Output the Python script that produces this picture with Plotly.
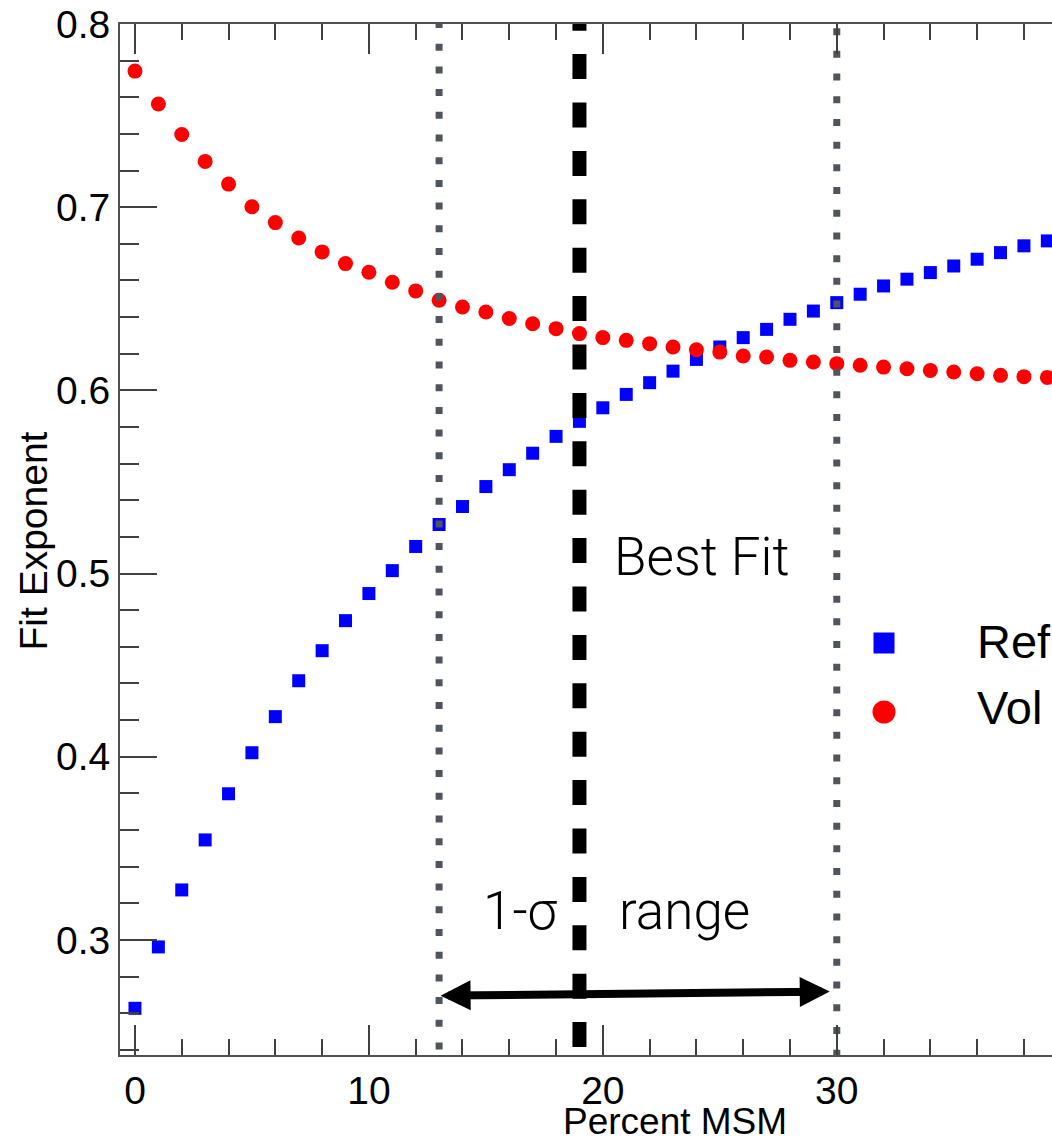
import plotly.graph_objects as go

# ---------------- data ----------------
percent_msm = list(range(40))
ref_exponent = [0.2627, 0.2962, 0.3273, 0.3546, 0.3798, 0.4022, 0.4219, 0.4415, 0.4579, 0.4743,
                0.4891, 0.5016, 0.5148, 0.5268, 0.5366, 0.5475, 0.5567, 0.5657, 0.5749, 0.5831,
                0.5905, 0.5978, 0.6042, 0.6105, 0.6169, 0.6237, 0.6288, 0.6333, 0.6388, 0.6433,
                0.6479, 0.6525, 0.6570, 0.6607, 0.6643, 0.6679, 0.6716, 0.6752, 0.6789, 0.6816]
vol_exponent = [0.7743, 0.7563, 0.7397, 0.7250, 0.7126, 0.7002, 0.6916, 0.6832, 0.6756, 0.6692,
                0.6645, 0.6590, 0.6543, 0.6492, 0.6455, 0.6428, 0.6392, 0.6364, 0.6337, 0.6310,
                0.6288, 0.6273, 0.6255, 0.6237, 0.6222, 0.6209, 0.6188, 0.6182, 0.6164, 0.6155,
                0.6146, 0.6137, 0.6127, 0.6118, 0.6109, 0.6100, 0.6091, 0.6082, 0.6075, 0.6071]
series_names = ["Ref", "Vol"]
best_fit_x = 19
sigma_range = [13, 30]
arrow_right_x = 29.7
arrow_y = [0.2696, 0.2718]
x_range = [-0.64, 39.2]
y_range = [0.2372, 0.8]

# ---------------- layout geometry (pixels) ----------------
W, H = 1052, 1144
ML, MR, MT, MB = 120, 0, 24, 89
PW, PH = W - ML - MR, H - MT - MB


def px(xp):
    return (xp - ML) / PW


def py(yp):
    return (H - MB - yp) / PH


fig = go.Figure()

fig.add_trace(go.Scatter(x=percent_msm, y=ref_exponent, mode="markers", name=series_names[0],
                         marker=dict(symbol="square", size=13, color="#0000ff"), showlegend=False))
fig.add_trace(go.Scatter(x=percent_msm, y=vol_exponent, mode="markers", name=series_names[1],
                         marker=dict(symbol="circle", size=15, color="#ff0000"), showlegend=False))

# 1-sigma bounds (dotted)
for xb, ystart in zip(sigma_range, [0.2402, 0.2363]):
    fig.add_trace(go.Scatter(x=[xb, xb], y=[ystart, y_range[1]], mode="lines", showlegend=False,
                             line=dict(color="#50555c", width=7, dash="7px,15.7px"), hoverinfo="skip"))
# best fit (dashed)
fig.add_trace(go.Scatter(x=[best_fit_x, best_fit_x], y=[0.2415, y_range[1]], mode="lines", showlegend=False,
                         line=dict(color="#000000", width=14, dash="25px,23.4px"), hoverinfo="skip"))

light = dict(family="Roboto, 'Liberation Sans', Arial, sans-serif", size=53, color="#000000", weight=300)
reg = dict(family="'Liberation Sans', Arial, Helvetica, sans-serif", color="#000000")

annotations = [
    # double headed arrow
    dict(x=arrow_right_x, y=arrow_y[1], ax=sigma_range[0], ay=arrow_y[0], xref="x", yref="y",
         axref="x", ayref="y", text="", showarrow=True, arrowside="end+start", arrowhead=2,
         startarrowhead=2, arrowwidth=8, arrowsize=0.75, startarrowsize=0.75, arrowcolor="#000000",
         standoff=0, startstandoff=0),
    dict(x=20.38, y=0.5093, xref="x", yref="y", text="Best Fit", showarrow=False,
         xanchor="left", yanchor="middle", font=light),
    dict(x=14.79, y=0.3158, xref="x", yref="y", text="1-σ", showarrow=False,
         xanchor="left", yanchor="middle", font=light),
    dict(x=20.6, y=0.3158, xref="x", yref="y", text="range", showarrow=False,
         xanchor="left", yanchor="middle", font=light),
    # axis titles
    dict(x=px(32.5), y=py(541), xref="paper", yref="paper", text="Fit Exponent", showarrow=False,
         textangle=-90, xanchor="center", yanchor="middle", font=dict(reg, size=39)),
    dict(x=px(675), y=0, yshift=-(H - MB) + 0 + (H - MB) - 89, xref="paper", yref="paper",
         text="Percent MSM", showarrow=False, xanchor="center", yanchor="bottom",
         font=dict(reg, size=37)),
    # legend labels
    dict(x=px(975), y=py(642), xref="paper", yref="paper", text=series_names[0], showarrow=False,
         xanchor="left", yanchor="middle", font=dict(reg, size=47)),
    dict(x=px(975), y=py(707), xref="paper", yref="paper", text=series_names[1], showarrow=False,
         xanchor="left", yanchor="middle", font=dict(reg, size=47)),
]

shapes = [
    dict(type="rect", xref="paper", yref="paper", xsizemode="pixel", ysizemode="pixel",
         xanchor=px(884), yanchor=py(643), x0=-10.5, x1=10.5, y0=-10.5, y1=10.5,
         fillcolor="#0000ff", line=dict(width=0)),
    dict(type="circle", xref="paper", yref="paper", xsizemode="pixel", ysizemode="pixel",
         xanchor=px(884), yanchor=py(712), x0=-11.5, x1=11.5, y0=-11.5, y1=11.5,
         fillcolor="#ff0000", line=dict(width=0)),
]

axis_common = dict(showline=True, linecolor="#505050", linewidth=2, ticks="inside",
                   tickcolor="#404040", tickwidth=2, showgrid=False, zeroline=False,
                   tickfont=dict(reg, size=39))

fig.update_layout(
    width=W, height=H, margin=dict(l=ML, r=MR, t=MT, b=MB, autoexpand=False),
    paper_bgcolor="white", plot_bgcolor="white", showlegend=False,
    xaxis=dict(axis_common, range=x_range, dtick=10, tick0=0, ticklen=30, mirror="ticks",
               minor=dict(dtick=2, tick0=0, ticklen=16, ticks="inside", tickcolor="#404040", tickwidth=2)),
    yaxis=dict(axis_common, range=y_range, dtick=0.1, tick0=0, ticklen=37, mirror=False,
               tickformat=".1f",
               minor=dict(dtick=0.02, tick0=0, ticklen=19, ticks="inside", tickcolor="#404040", tickwidth=2)),
    annotations=annotations, shapes=shapes,
)

fig.write_html("out.html")
